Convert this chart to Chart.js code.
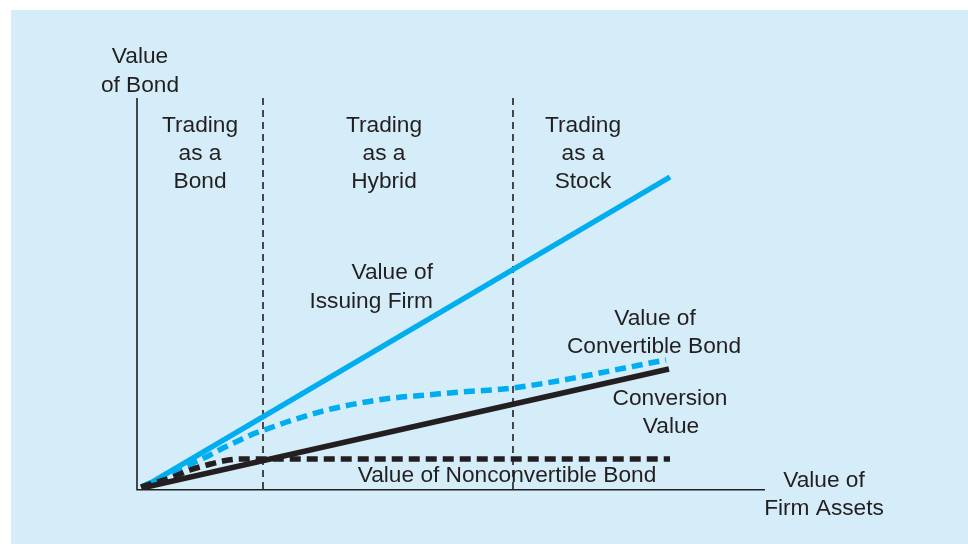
<!DOCTYPE html>
<html lang="en">
<head>
  <meta charset="UTF-8" />
  <title>Convertible Bond Value</title>
  <script src="https://cdn.jsdelivr.net/npm/chart.js"></script>
  <style>
    html, body {
      margin: 0;
      padding: 0;
      background: #fff;
    }
    #chart {
      display: block;
    }
  </style>
</head>
<body>
<canvas id="chart" width="968" height="544"></canvas>
<script>
  // values (x = value of firm assets, y = value of bond, arbitrary units)
  const firmX = [5, 533];
  const firmY = [1, 312];

  const conversionX = [5, 532];
  const conversionY = [1, 120];

  const straightX = [4, 20, 36, 53, 70, 86, 103, 130, 533];
  const straightY = [2, 7, 12, 19, 24, 28, 30, 30, 30];

  const convertibleX = [4, 56, 73, 86, 103, 116, 130, 156, 190, 223, 256, 290, 323, 376, 529];
  const convertibleY = [2, 26, 34, 41, 49, 55, 60, 69, 79, 86, 91, 94, 97, 101, 129];

  const regionBounds = [126, 376];
  const xMax = 628;
  const yMax = 391;

  const BLUE = "#00aeef";
  const INK = "#231f20";

  const toPoints = (xs, ys) => xs.map((x, i) => ({ x: x, y: ys[i] }));

  const boundSets = regionBounds.map(b => ({
    data: [{ x: b, y: 0 }, { x: b, y: yMax }],
    borderColor: INK,
    borderWidth: 1.6,
    borderDash: [7, 5],
    order: 5
  }));

  // panel background + axes
  const panel = {
    id: "panel",
    beforeDraw(chart) {
      const ctx = chart.ctx;
      ctx.save();
      ctx.fillStyle = "#fff";
      ctx.fillRect(0, 0, chart.width, chart.height);
      ctx.fillStyle = "#d5ecf9";
      ctx.fillRect(11, 10, chart.width - 11, chart.height - 10);
      ctx.restore();
    },
    afterDatasetsDraw(chart) {
      const { ctx, scales } = chart;
      const x0 = scales.x.getPixelForValue(0);
      const x1 = scales.x.getPixelForValue(xMax);
      const y0 = scales.y.getPixelForValue(0);
      const y1 = scales.y.getPixelForValue(yMax);
      ctx.save();
      ctx.strokeStyle = INK;
      ctx.lineWidth = 1.6;
      ctx.beginPath();
      ctx.moveTo(x0, y1);
      ctx.lineTo(x0, y0 + 0.75);
      ctx.lineTo(x1, y0 + 0.75);
      ctx.stroke();
      ctx.restore();
    }
  };

  // text labels
  const labels = [
    { t: "Value", x: 140, y: 63 },
    { t: "of Bond", x: 140, y: 92 },
    { t: "Trading", x: 200, y: 132 },
    { t: "as a", x: 200, y: 160 },
    { t: "Bond", x: 200, y: 188 },
    { t: "Trading", x: 384, y: 132 },
    { t: "as a", x: 384, y: 160 },
    { t: "Hybrid", x: 384, y: 188 },
    { t: "Trading", x: 583, y: 132 },
    { t: "as a", x: 583, y: 160 },
    { t: "Stock", x: 583, y: 188 },
    { t: "Value of", x: 433, y: 279, a: "right" },
    { t: "Issuing Firm", x: 433, y: 308, a: "right" },
    { t: "Value of", x: 655, y: 325 },
    { t: "Convertible Bond", x: 654, y: 353 },
    { t: "Conversion", x: 670, y: 405 },
    { t: "Value", x: 671, y: 433 },
    { t: "Value of Nonconvertible Bond", x: 507, y: 482 },
    { t: "Value of", x: 824, y: 487 },
    { t: "Firm Assets", x: 824, y: 515 }
  ];

  const textPlugin = {
    id: "texts",
    afterDraw(chart) {
      const ctx = chart.ctx;
      ctx.save();
      ctx.fillStyle = INK;
      ctx.font = "22.7px 'Liberation Sans', Arial, sans-serif";
      ctx.textBaseline = "alphabetic";
      labels.forEach(l => {
        ctx.textAlign = l.a || "center";
        ctx.fillText(l.t, l.x, l.y);
      });
      ctx.restore();
    }
  };

  new Chart(document.getElementById("chart"), {
    type: "line",
    data: {
      datasets: [
        {
          label: "Value of Nonconvertible Bond",
          data: toPoints(straightX, straightY),
          borderColor: INK,
          borderWidth: 5.5,
          borderDash: [11, 6],
          cubicInterpolationMode: "monotone",
          order: 1
        },
        {
          label: "Conversion Value",
          data: toPoints(conversionX, conversionY),
          borderColor: INK,
          borderWidth: 5.5,
          order: 2
        },
        {
          label: "Value of Convertible Bond",
          data: toPoints(convertibleX, convertibleY),
          borderColor: BLUE,
          borderWidth: 5.5,
          borderDash: [11, 6],
          cubicInterpolationMode: "monotone",
          order: 3
        },
        {
          label: "Value of Issuing Firm",
          data: toPoints(firmX, firmY),
          borderColor: BLUE,
          borderWidth: 5.5,
          order: 4
        },
        ...boundSets
      ]
    },
    options: {
      responsive: false,
      animation: false,
      layout: { padding: { left: 137, right: 203, top: 98, bottom: 55 } },
      elements: {
        point: { radius: 0, hoverRadius: 0 },
        line: { fill: false, borderCapStyle: "butt" }
      },
      scales: {
        x: { type: "linear", min: 0, max: xMax, display: false },
        y: { type: "linear", min: 0, max: yMax, display: false }
      },
      plugins: {
        legend: { display: false },
        tooltip: { enabled: false }
      }
    },
    plugins: [panel, textPlugin]
  });
</script>
</body>
</html>
